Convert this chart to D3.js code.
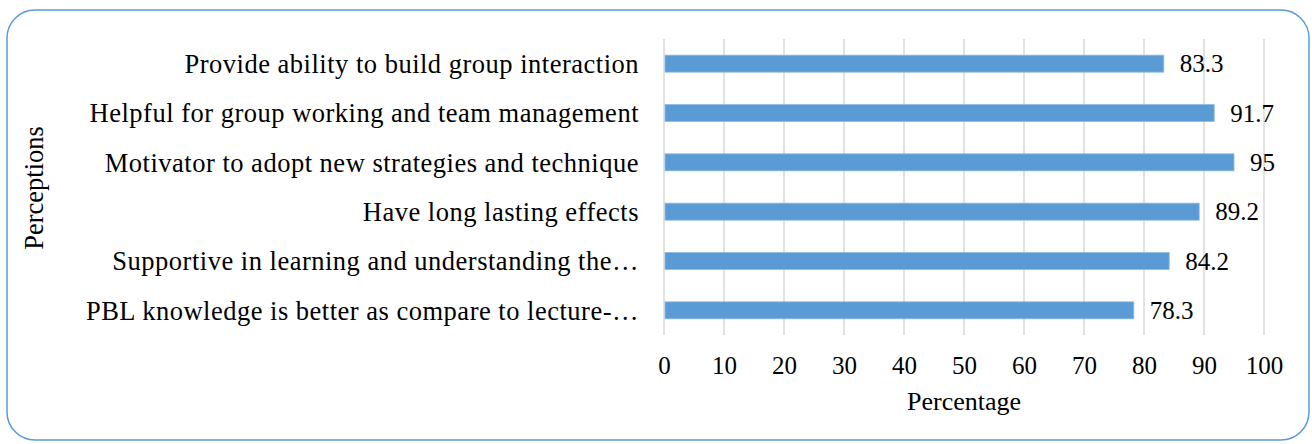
<!DOCTYPE html>
<html>
<head>
<meta charset="utf-8">
<script src="https://cdn.jsdelivr.net/npm/d3@7"></script>
<style>
  body { margin: 0; background: #fff; }
  svg text { font-family: "Liberation Serif", "Times New Roman", serif; fill: #000; }
</style>
</head>
<body>
<svg id="chart" width="1312" height="444"></svg>
<script>
// perceptions, top row first
var categories = [
  "Provide ability to build group interaction",
  "Helpful for group working and team management",
  "Motivator to adopt new strategies and technique",
  "Have long lasting effects",
  "Supportive in learning and understanding the\u2026",
  "PBL knowledge is better as compare to lecture-\u2026"
];
var values = [83.3, 91.7, 95, 89.2, 84.2, 78.3];
var xTicks = [0, 10, 20, 30, 40, 50, 60, 70, 80, 90, 100];

var svg = d3.select('#chart');
var margin = {top: 39, left: 664, right: 48, bottom: 109};
var width = 1312 - margin.left - margin.right,
    height = 444 - margin.top - margin.bottom;

// outer frame
svg.append('rect')
  .attr('x', 7).attr('y', 10)
  .attr('width', 1302).attr('height', 430)
  .attr('rx', 28).attr('ry', 28)
  .attr('fill', '#fff')
  .attr('stroke', '#5b9bd5')
  .attr('stroke-width', 1.5);

var g = svg.append('g')
  .attr('transform', 'translate(' + margin.left + ',' + margin.top + ')');

var x = d3.scaleLinear().domain([0, 100]).range([0, width]);
var y = d3.scaleBand().domain(categories).range([0, height]).paddingInner(0.655).paddingOuter(0.3275);

// gridlines
g.selectAll('.grid')
  .data(xTicks)
  .enter().append('line')
  .attr('class', 'grid')
  .attr('x1', function(d) { return x(d); })
  .attr('x2', function(d) { return x(d); })
  .attr('y1', 0).attr('y2', height)
  .attr('stroke', '#d9d9d9')
  .attr('stroke-width', 1.5);

// bars
g.selectAll('.bar')
  .data(values)
  .enter().append('rect')
  .attr('class', 'bar')
  .attr('x', x(0) + 1)
  .attr('y', function(d, i) { return y(categories[i]); })
  .attr('width', function(d) { return x(d) - x(0) - 1; })
  .attr('height', y.bandwidth())
  .attr('fill', '#5b9bd5')
  .attr('stroke', '#8fbbe4')
  .attr('stroke-width', 0.8);

// value labels
g.selectAll('.val')
  .data(values)
  .enter().append('text')
  .attr('class', 'val')
  .attr('x', function(d) { return x(d) + 16; })
  .attr('y', function(d, i) { return y(categories[i]) + y.bandwidth() / 2; })
  .attr('dy', '0.35em')
  .attr('font-size', 25)
  .text(function(d) { return d; });

// category labels
g.selectAll('.cat')
  .data(categories)
  .enter().append('text')
  .attr('class', 'cat')
  .attr('x', -25)
  .attr('y', function(d) { return y(d) + y.bandwidth() / 2; })
  .attr('dy', '0.35em')
  .attr('text-anchor', 'end')
  .attr('font-size', 26.5)
  .attr('letter-spacing', 0.5)
  .text(function(d) { return d; });

// x axis tick labels
var xAxis = d3.axisBottom(x).tickValues(xTicks).tickSize(0).tickPadding(21);
var ax = g.append('g')
  .attr('transform', 'translate(0,' + height + ')')
  .call(xAxis);
ax.select('.domain').remove();
ax.selectAll('text')
  .attr('font-size', 25)
  .attr('font-family', '"Liberation Serif", serif')
  .attr('fill', '#000');

// axis titles
svg.append('text')
  .attr('x', margin.left + width / 2)
  .attr('y', 410)
  .attr('text-anchor', 'middle')
  .attr('font-size', 26)
  .text('Percentage');

svg.append('text')
  .attr('transform', 'translate(34,188) rotate(-90)')
  .attr('dy', '0.35em')
  .attr('text-anchor', 'middle')
  .attr('font-size', 26.5)
  .text('Perceptions');
</script>
</body>
</html>
